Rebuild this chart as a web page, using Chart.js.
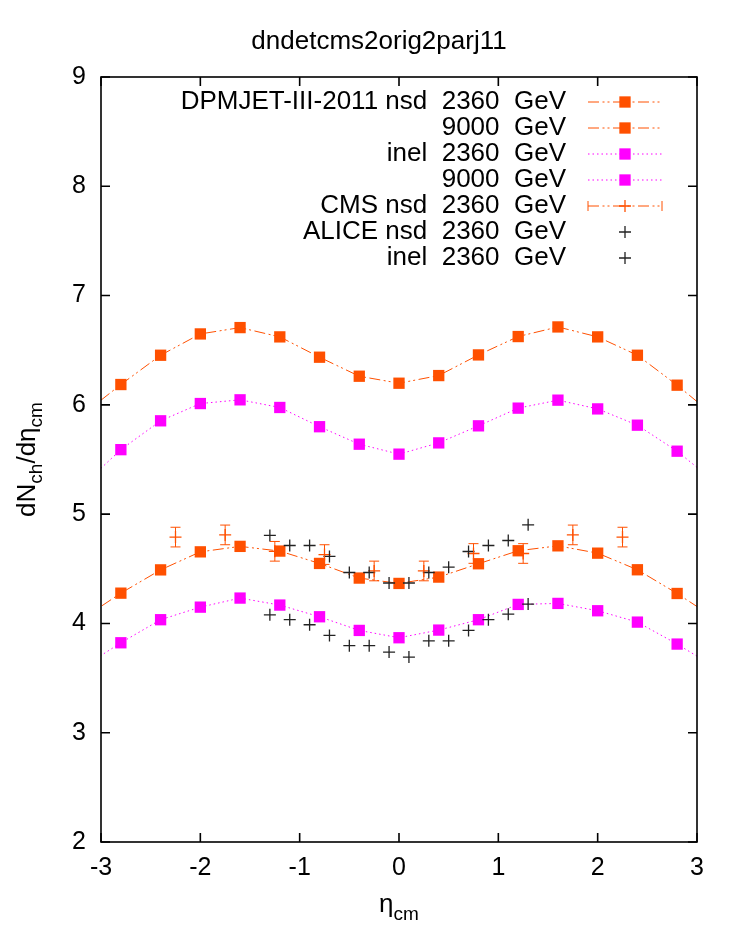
<!DOCTYPE html>
<html>
<head>
<meta charset="utf-8">
<script src="https://cdn.jsdelivr.net/npm/chart.js@4.4.1/dist/chart.umd.min.js"></script>
<style>
  html, body { margin: 0; padding: 0; background: #fff; }
  #wrap { width: 736px; height: 947px; }
</style>
</head>
<body>
<div id="wrap"><canvas id="chart" width="736" height="947"></canvas></div>
<script>
  // model curves (DPMJET-III-2011), points at +-3.2 lie outside the frame and only carry the line to the edge
  const ETA_MODEL = [-3.2, -2.8, -2.4, -2.0, -1.6, -1.2, -0.8, -0.4, 0, 0.4, 0.8, 1.2, 1.6, 2.0, 2.4, 2.8, 3.2];
  const NSD_2360 = [4.035, 4.277, 4.49, 4.655, 4.705, 4.662, 4.549, 4.415, 4.366, 4.424, 4.546, 4.665, 4.71, 4.643, 4.491, 4.274, 4.035];
  const NSD_9000 = [5.90, 6.186, 6.454, 6.649, 6.707, 6.622, 6.436, 6.262, 6.198, 6.268, 6.457, 6.625, 6.713, 6.622, 6.454, 6.18, 5.88];
  const INEL_2360 = [3.59, 3.823, 4.034, 4.149, 4.232, 4.168, 4.061, 3.936, 3.869, 3.939, 4.034, 4.174, 4.183, 4.116, 4.012, 3.811, 3.59];
  const INEL_9000 = [5.25, 5.59, 5.854, 6.012, 6.046, 5.976, 5.80, 5.64, 5.549, 5.652, 5.808, 5.97, 6.043, 5.963, 5.814, 5.576, 5.28];

  // CMS nsd 2360 GeV
  const CMS_ETA = [-2.25, -1.75, -1.25, -0.75, -0.25, 0.25, 0.75, 1.25, 1.75, 2.25];
  const CMS_NSD = [4.79, 4.81, 4.66, 4.63, 4.48, 4.48, 4.64, 4.64, 4.81, 4.79];
  const CMS_ERR = [0.09, 0.09, 0.09, 0.09, 0.09, 0.09, 0.09, 0.09, 0.09, 0.09];

  // ALICE 2360 GeV
  const ALICE_ETA = [-1.3, -1.1, -0.9, -0.7, -0.5, -0.3, -0.1, 0.1, 0.3, 0.5, 0.7, 0.9, 1.1, 1.3];
  const ALICE_NSD = [4.805, 4.713, 4.713, 4.613, 4.466, 4.466, 4.37, 4.37, 4.466, 4.515, 4.658, 4.713, 4.759, 4.902];
  const ALICE_INEL = [4.079, 4.034, 3.988, 3.89, 3.796, 3.796, 3.738, 3.692, 3.841, 3.841, 3.936, 4.034, 4.085, 4.177];

  const X_TICKS = [-3, -2, -1, 0, 1, 2, 3];
  const Y_TICKS = [2, 3, 4, 5, 6, 7, 8, 9];

  const LEGEND_LABELS = [
    "DPMJET-III-2011 nsd  2360  GeV",
    "9000  GeV",
    "inel  2360  GeV",
    "9000  GeV",
    "CMS nsd  2360  GeV",
    "ALICE nsd  2360  GeV",
    "inel  2360  GeV",
  ];

  const FONT = "'Liberation Sans', Arial, Helvetica, sans-serif";
  const ORANGE = "#ff5000";
  const MAGENTA = "#ff00ff";
  const DARK = "#222222";
  const DASH_ORANGE = [11, 3.5, 2, 3, 2, 3.5];
  const DASH_MAGENTA = [1.5, 3];

  function pts(xs, ys) {
    return xs.map((x, i) => ({ x: x, y: ys[i] }));
  }

  function modelSet(label, ys, color, dash) {
    return {
      label: label,
      data: pts(ETA_MODEL, ys),
      borderColor: color,
      backgroundColor: color,
      borderWidth: 1,
      borderDash: dash,
      pointStyle: "rect",
      pointRadius: 8,
      pointBorderWidth: 0,
      pointBackgroundColor: color,
      fill: false,
      tension: 0,
      order: 3,
    };
  }

  function crossSet(label, xs, ys, color, order) {
    return {
      label: label,
      data: pts(xs, ys),
      showLine: false,
      borderColor: color,
      backgroundColor: color,
      pointStyle: "cross",
      pointRadius: 6,
      pointBorderWidth: 1.3,
      pointBorderColor: color,
      order: order,
    };
  }

  const datasets = [
    modelSet(LEGEND_LABELS[0], NSD_2360, ORANGE, DASH_ORANGE),
    modelSet(LEGEND_LABELS[1], NSD_9000, ORANGE, DASH_ORANGE),
    modelSet(LEGEND_LABELS[2], INEL_2360, MAGENTA, DASH_MAGENTA),
    modelSet(LEGEND_LABELS[3], INEL_9000, MAGENTA, DASH_MAGENTA),
    crossSet(LEGEND_LABELS[4], CMS_ETA, CMS_NSD, ORANGE, 2),
    crossSet(LEGEND_LABELS[5], ALICE_ETA, ALICE_NSD, DARK, 1),
    crossSet(LEGEND_LABELS[6], ALICE_ETA, ALICE_INEL, DARK, 1),
  ];
  datasets[4].errors = CMS_ERR;
  datasets[4].legendKind = "errorbar";
  datasets[5].legendKind = "point";
  datasets[6].legendKind = "point";

  // text with subscripts, parts = [[text, size, dy], ...]
  function drawParts(ctx, parts, cx, cy) {
    let total = 0;
    parts.forEach((p) => {
      ctx.font = p[1] + "px " + FONT;
      total += ctx.measureText(p[0]).width;
    });
    let x = cx - total / 2;
    ctx.textAlign = "left";
    ctx.textBaseline = "alphabetic";
    parts.forEach((p) => {
      ctx.font = p[1] + "px " + FONT;
      ctx.fillText(p[0], x, cy + p[2]);
      x += ctx.measureText(p[0]).width;
    });
  }

  function drawMarker(ctx, ds, x, y) {
    ctx.save();
    ctx.setLineDash([]);
    if (ds.pointStyle === "rect") {
      const h = ds.pointRadius * Math.SQRT1_2;
      ctx.fillStyle = ds.pointBackgroundColor;
      ctx.fillRect(x - h, y - h, 2 * h, 2 * h);
    } else {
      const r = ds.pointRadius;
      ctx.strokeStyle = ds.pointBorderColor;
      ctx.lineWidth = ds.pointBorderWidth;
      ctx.beginPath();
      ctx.moveTo(x - r, y);
      ctx.lineTo(x + r, y);
      ctx.moveTo(x, y - r);
      ctx.lineTo(x, y + r);
      ctx.stroke();
    }
    ctx.restore();
  }

  const gnuplotLook = {
    id: "gnuplotLook",
    afterDatasetsDraw(chart) {
      const ctx = chart.ctx;
      const xs = chart.scales.x;
      const ys = chart.scales.y;
      const area = chart.chartArea;

      // CMS error bars
      chart.data.datasets.forEach((ds) => {
        if (!ds.errors) return;
        ctx.save();
        ctx.beginPath();
        ctx.rect(area.left, area.top, area.right - area.left, area.bottom - area.top);
        ctx.clip();
        ctx.strokeStyle = ds.borderColor;
        ctx.lineWidth = 1;
        ds.data.forEach((p, i) => {
          const px = xs.getPixelForValue(p.x);
          const top = ys.getPixelForValue(p.y + ds.errors[i]);
          const bot = ys.getPixelForValue(p.y - ds.errors[i]);
          ctx.beginPath();
          ctx.moveTo(px, top);
          ctx.lineTo(px, bot);
          ctx.moveTo(px - 5, top);
          ctx.lineTo(px + 5, top);
          ctx.moveTo(px - 5, bot);
          ctx.lineTo(px + 5, bot);
          ctx.stroke();
        });
        ctx.restore();
      });

      // frame and inward ticks on all four sides
      ctx.save();
      ctx.strokeStyle = "#000";
      ctx.lineWidth = 1.6;
      ctx.strokeRect(area.left, area.top, area.right - area.left, area.bottom - area.top);
      const tl = 9;
      ctx.beginPath();
      xs.ticks.forEach((t) => {
        const px = xs.getPixelForValue(t.value);
        ctx.moveTo(px, area.bottom);
        ctx.lineTo(px, area.bottom - tl);
        ctx.moveTo(px, area.top);
        ctx.lineTo(px, area.top + tl);
      });
      ys.ticks.forEach((t) => {
        const py = ys.getPixelForValue(t.value);
        ctx.moveTo(area.left, py);
        ctx.lineTo(area.left + tl, py);
        ctx.moveTo(area.right, py);
        ctx.lineTo(area.right - tl, py);
      });
      ctx.stroke();
      ctx.restore();

      // legend, gnuplot style: right aligned text then sample
      ctx.save();
      ctx.fillStyle = "#000";
      ctx.font = "26px " + FONT;
      ctx.textAlign = "right";
      ctx.textBaseline = "middle";
      const textRight = 566;
      const x0 = 588, x1 = 662, xm = 625;
      chart.data.datasets.forEach((ds, i) => {
        const y = 102 + 26 * i;
        ctx.fillText(ds.label, textRight, y);
        if (ds.legendKind === "point") {
          drawMarker(ctx, ds, xm, y);
          return;
        }
        ctx.save();
        ctx.strokeStyle = ds.borderColor;
        ctx.lineWidth = 1;
        ctx.setLineDash(ds.borderDash || DASH_ORANGE);
        ctx.beginPath();
        ctx.moveTo(x0, y);
        ctx.lineTo(x1, y);
        ctx.stroke();
        if (ds.legendKind === "errorbar") {
          ctx.setLineDash([]);
          ctx.beginPath();
          ctx.moveTo(x0, y - 5);
          ctx.lineTo(x0, y + 5);
          ctx.moveTo(x1, y - 5);
          ctx.lineTo(x1, y + 5);
          ctx.stroke();
        }
        ctx.restore();
        drawMarker(ctx, ds, xm, y);
      });
      ctx.restore();

      // title and axis labels
      ctx.save();
      ctx.fillStyle = "#000";
      ctx.font = "26px " + FONT;
      ctx.textAlign = "center";
      ctx.textBaseline = "alphabetic";
      ctx.fillText("dndetcms2orig2parj11", 379, 49);
      drawParts(ctx, [["\u03b7", 26, 0], ["cm", 19, 8]], (area.left + area.right) / 2, 912);
      ctx.translate(35, (area.top + area.bottom) / 2);
      ctx.rotate(-Math.PI / 2);
      drawParts(ctx, [["dN", 26, 0], ["ch", 19, 7], ["/d\u03b7", 26, 0], ["cm", 19, 7]], 0, 0);
      ctx.restore();
    },
  };

  new Chart(document.getElementById("chart"), {
    type: "line",
    data: { datasets: datasets },
    options: {
      responsive: false,
      animation: false,
      devicePixelRatio: 1,
      layout: { padding: { top: 77, right: 39, left: 0, bottom: 0 } },
      plugins: {
        legend: { display: false },
        tooltip: { enabled: false },
        title: { display: false },
      },
      scales: {
        x: {
          type: "linear",
          min: -3,
          max: 3,
          afterBuildTicks: (scale) => { scale.ticks = X_TICKS.map((v) => ({ value: v })); },
          afterFit: (scale) => { scale.height = 105; },
          grid: { display: false, drawTicks: false },
          border: { display: false },
          ticks: {
            color: "#000",
            font: { family: FONT, size: 25 },
            padding: 11,
            maxRotation: 0,
            callback: (v) => String(v),
          },
        },
        y: {
          type: "linear",
          min: 2,
          max: 9,
          afterBuildTicks: (scale) => { scale.ticks = Y_TICKS.map((v) => ({ value: v })); },
          afterFit: (scale) => { scale.width = 101; },
          grid: { display: false, drawTicks: false },
          border: { display: false },
          ticks: {
            color: "#000",
            font: { family: FONT, size: 25 },
            padding: 15,
            callback: (v) => String(v),
          },
        },
      },
    },
    plugins: [gnuplotLook],
  });
</script>
</body>
</html>
